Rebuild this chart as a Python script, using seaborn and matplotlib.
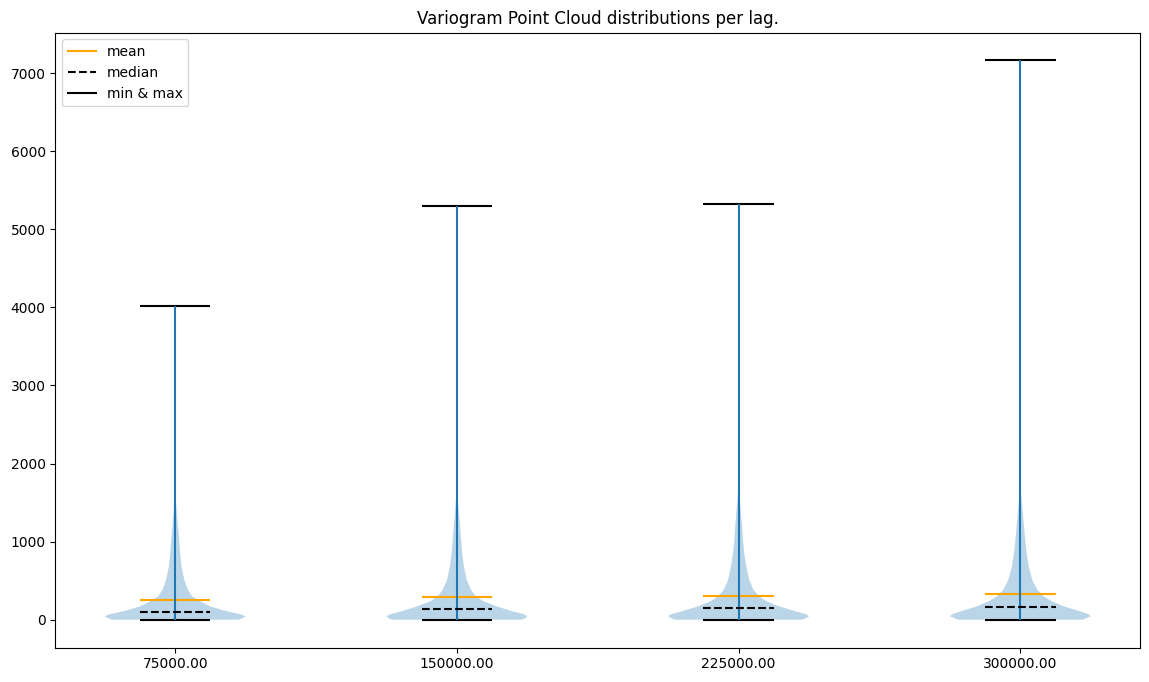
import numpy as np
import matplotlib
matplotlib.use("Agg")
import matplotlib.pyplot as plt
from matplotlib.lines import Line2D
import seaborn as sns

# ---- data ----
lag_labels = ["75000.00", "150000.00", "225000.00", "300000.00"]
means = [247, 285, 298, 324]
medians = [102, 132, 145, 157]
mins = [0, 0, 0, 0]
maxs = [4019, 5298, 5320, 7161]

# density profile levels (semivariance) and relative widths per lag
levels = [0, 20, 45, 70, 110, 170, 235, 300, 385, 510, 680, 850, 1020, 1200, 1400, 1600, 1800, 2000]
dens_lag1 = [0.90, 0.96, 1.00, 0.93, 0.73, 0.50, 0.36, 0.24, 0.18, 0.13, 0.09, 0.07, 0.057, 0.040, 0.020, 0.004, 0.0, 0.0]
dens_lag2 = [0.92, 0.97, 1.00, 0.95, 0.78, 0.57, 0.38, 0.27, 0.20, 0.14, 0.10, 0.075, 0.060, 0.045, 0.025, 0.008, 0.0, 0.0]
dens_lag3 = [0.90, 0.96, 1.00, 0.96, 0.80, 0.58, 0.40, 0.29, 0.21, 0.15, 0.11, 0.080, 0.062, 0.048, 0.030, 0.012, 0.002, 0.0]
dens_lag4 = [0.88, 0.94, 1.00, 0.97, 0.84, 0.62, 0.45, 0.33, 0.24, 0.17, 0.12, 0.090, 0.070, 0.052, 0.032, 0.012, 0.002, 0.0]
densities = [dens_lag1, dens_lag2, dens_lag3, dens_lag4]

palette = sns.color_palette("tab10")
blue = palette[0]

fig, ax = plt.subplots(figsize=(11.49, 6.82), dpi=100)
fig.subplots_adjust(left=0.0483, right=0.9922, bottom=0.0503, top=0.9523)

vpstats = []
for i in range(len(lag_labels)):
    coords = np.array(levels + [maxs[i]], dtype=float)
    vals = np.array(densities[i] + [0.0], dtype=float)
    vpstats.append(dict(coords=coords, vals=vals, mean=means[i], median=medians[i],
                        min=mins[i], max=maxs[i]))

positions = np.arange(1, len(lag_labels) + 1)
parts = ax.violin(vpstats, positions=positions, widths=0.5,
                  showmeans=True, showextrema=True, showmedians=True)
for b in parts["bodies"]:
    b.set_facecolor(blue)
    b.set_edgecolor("none")
    b.set_alpha(0.3)
parts["cbars"].set_color(blue)
parts["cmeans"].set_color("orange")
parts["cmedians"].set_color("black")
parts["cmedians"].set_linestyle("--")
parts["cmins"].set_color("black")
parts["cmaxes"].set_color("black")

ax.set_xticks(positions)
ax.set_xticklabels(lag_labels)
ax.set_title("Variogram Point Cloud distributions per lag.")

handles = [Line2D([], [], color="orange", label="mean"),
           Line2D([], [], color="black", linestyle="--", label="median"),
           Line2D([], [], color="black", label="min & max")]
ax.legend(handles=handles, loc="upper left")

fig.savefig("out.png", dpi=100)
